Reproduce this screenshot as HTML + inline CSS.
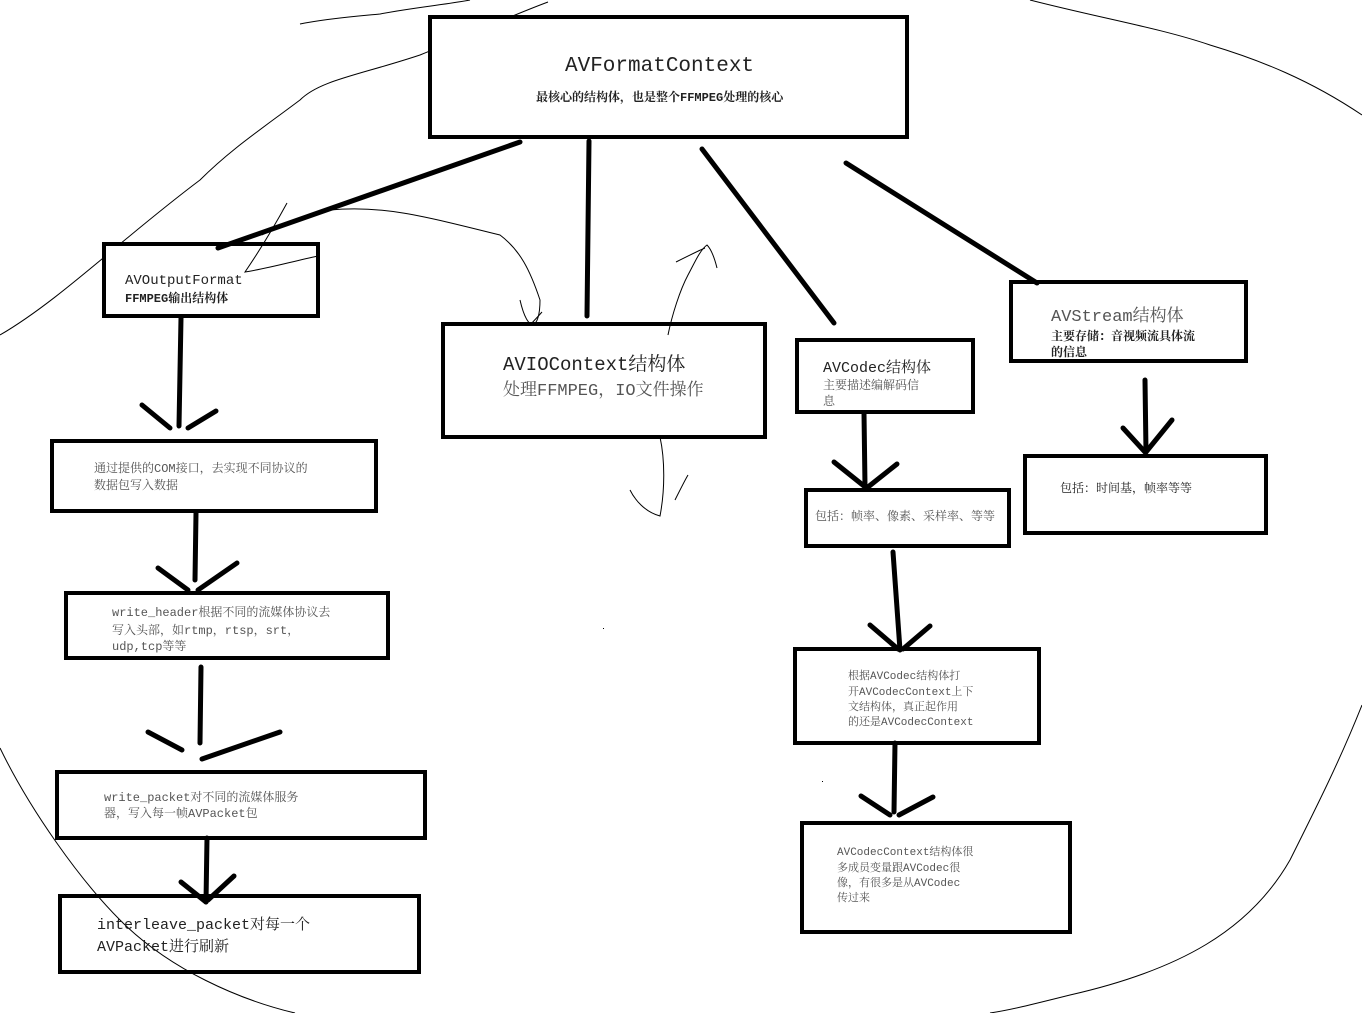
<!DOCTYPE html>
<html><head><meta charset="utf-8"><style>
html,body{margin:0;padding:0;background:#fff;}
svg{display:block}
text{font-family:"Liberation Mono","Noto Serif CJK SC",monospace;fill:#222;}
.g{fill:#555}
</style></head><body>
<svg width="1362" height="1013" viewBox="0 0 1362 1013" xmlns="http://www.w3.org/2000/svg">
<g fill="none" stroke="#000" stroke-width="1">
<path d="M300,24 C330,18 360,16 380,14 C410,8 450,4 470,0"/>
<path d="M548,2 C500,20 470,35 420,55 C360,75 320,80 300,100 C260,130 230,150 200,180 C120,240 60,300 0,335"/>
<path d="M1030,0 C1100,18 1160,28 1210,45 C1260,60 1310,80 1362,115"/>
<path d="M1362,705 C1340,760 1320,800 1290,860 C1250,930 1180,970 1070,995 C1030,1005 1010,1010 990,1013"/>
<path d="M518,338 C525,330 535,320 542,312"/>
<path d="M676,262 C690,255 700,250 705,248"/>
<path d="M660,437 C665,460 665,490 660,516 C645,512 635,500 630,490"/>
<path d="M675,500 C680,490 685,480 688,475"/>
</g>
<g fill="#fff" stroke="#000" stroke-width="4">
<rect x="430" y="17" width="477" height="120"/>
<rect x="104" y="244" width="214" height="72"/>
<rect x="443" y="324" width="322" height="113"/>
<rect x="797" y="340" width="176" height="72"/>
<rect x="1011" y="282" width="235" height="79"/>
<rect x="52" y="441" width="324" height="70"/>
<rect x="66" y="593" width="322" height="65"/>
<rect x="57" y="772" width="368" height="66"/>
<rect x="60" y="896" width="359" height="76"/>
<rect x="806" y="490" width="203" height="56"/>
<rect x="1025" y="456" width="241" height="77"/>
<rect x="795" y="649" width="244" height="94"/>
<rect x="802" y="823" width="268" height="109"/>
</g>
<g stroke="#000" stroke-width="5" stroke-linecap="round" fill="none">
<line x1="520" y1="142" x2="218" y2="248"/>
<line x1="589" y1="141" x2="587" y2="316"/>
<line x1="702" y1="149" x2="834" y2="323"/>
<line x1="846" y1="163" x2="1037" y2="283"/>
<line x1="181" y1="318" x2="179" y2="426"/>
<line x1="142" y1="405" x2="170" y2="428"/><line x1="188" y1="428" x2="216" y2="411"/>
<line x1="196" y1="513" x2="195" y2="580"/>
<line x1="158" y1="568" x2="188" y2="590"/><line x1="198" y1="590" x2="237" y2="563"/>
<line x1="201" y1="667" x2="200" y2="743"/>
<line x1="148" y1="732" x2="182" y2="750"/><line x1="202" y1="759" x2="280" y2="732"/>
<line x1="207" y1="838" x2="206" y2="902"/>
<line x1="181" y1="882" x2="206" y2="902"/><line x1="208" y1="900" x2="234" y2="876"/>
<line x1="864" y1="413" x2="865" y2="486"/>
<line x1="834" y1="462" x2="864" y2="486"/><line x1="868" y1="487" x2="897" y2="464"/>
<line x1="893" y1="552" x2="900" y2="650"/>
<line x1="870" y1="625" x2="898" y2="649"/><line x1="903" y1="649" x2="930" y2="626"/>
<line x1="895" y1="743" x2="894" y2="812"/>
<line x1="861" y1="796" x2="890" y2="815"/><line x1="899" y1="815" x2="933" y2="797"/>
<line x1="1145" y1="380" x2="1146" y2="452"/>
<line x1="1123" y1="428" x2="1145" y2="452"/><line x1="1146" y1="452" x2="1172" y2="420"/>
</g>
<g fill="none" stroke="#000" stroke-width="1">
<path d="M287,203 C275,225 260,250 245,272 C270,268 290,262 318,256"/>
<path d="M262,235 C280,225 300,215 330,210 C380,205 420,215 500,235 C520,250 530,270 540,300 C540,330 528,335 520,300"/>
<path d="M668,335 C672,315 680,290 688,275 C695,262 700,250 707,245 C712,250 715,260 717,268"/>
<path d="M0,748 C30,810 80,880 120,920 C170,970 240,1000 295,1013"/>
</g>
<text x="565" y="71" font-size="21">AVFormatContext</text>
<text x="536" y="101" font-size="12" font-weight="bold">最核心的结构体，也是整个FFMPEG处理的核心</text>
<text x="125" y="284" font-size="14">AVOutputFormat</text>
<text x="125" y="302" font-size="12" font-weight="bold">FFMPEG输出结构体</text>
<text x="503" y="370" font-size="19">AVIOContext结构体</text>
<text x="503" y="395" font-size="17" class="g">处理FFMPEG，IO文件操作</text>
<text x="823" y="372" font-size="15">AVCodec结构体</text>
<text x="823" y="389" font-size="12" class="g">主要描述编解码信</text>
<text x="823" y="405" font-size="12" class="g">息</text>
<text x="1051" y="321" font-size="17" class="g">AVStream结构体</text>
<text x="1051" y="340" font-size="12" font-weight="bold">主要存储：音视频流具体流</text>
<text x="1051" y="356" font-size="12" font-weight="bold">的信息</text>
<text x="94" y="472" font-size="12" class="g">通过提供的COM接口，去实现不同协议的</text>
<text x="94" y="489" font-size="12" class="g">数据包写入数据</text>
<text x="112" y="616" font-size="12" class="g">write_header根据不同的流媒体协议去</text>
<text x="112" y="634" font-size="12" class="g">写入头部，如rtmp，rtsp，srt，</text>
<text x="112" y="650" font-size="12" class="g">udp,tcp等等</text>
<text x="104" y="801" font-size="12" class="g">write_packet对不同的流媒体服务</text>
<text x="104" y="817" font-size="12" class="g">器，写入每一帧AVPacket包</text>
<text x="97" y="929" font-size="15">interleave_packet对每一个</text>
<text x="97" y="951" font-size="15">AVPacket进行刷新</text>
<text x="815" y="520" font-size="12" class="g">包括：帧率、像素、采样率、等等</text>
<text x="1060" y="492" font-size="12">包括：时间基，帧率等等</text>
<text x="848" y="679" font-size="11" class="g">根据AVCodec结构体打</text>
<text x="848" y="695" font-size="11" class="g">开AVCodecContext上下</text>
<text x="848" y="710" font-size="11" class="g">文结构体，真正起作用</text>
<text x="848" y="725" font-size="11" class="g">的还是AVCodecContext</text>
<text x="837" y="855" font-size="11" class="g">AVCodecContext结构体很</text>
<text x="837" y="871" font-size="11" class="g">多成员变量跟AVCodec很</text>
<text x="837" y="886" font-size="11" class="g">像，有很多是从AVCodec</text>
<text x="837" y="901" font-size="11" class="g">传过来</text>
<rect x="603" y="628" width="1" height="1" fill="#000"/>
<rect x="822" y="781" width="1" height="1" fill="#000"/>
</svg>
</body></html>
